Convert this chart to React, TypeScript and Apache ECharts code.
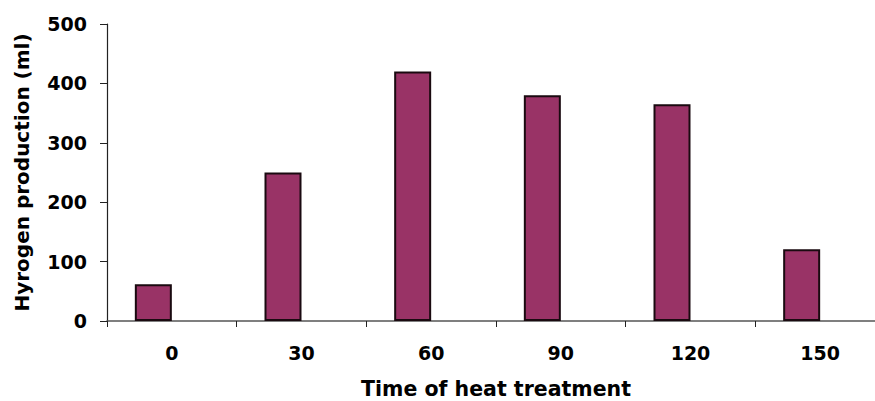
import React, { useEffect, useRef } from "react";
import * as echarts from "echarts";

const categories = ["0", "30", "60", "90", "120", "150"];
const hydrogen = [62, 250, 420, 380, 365, 121];
const spacer = [null, null, null, null, null, null];
const yTicks = { min: 0, max: 500, interval: 100 };

const FONT = "DejaVu Sans";

export default function App() {
  const ref = useRef<HTMLDivElement>(null);
  useEffect(() => {
    if (!ref.current) return;
    const chart = echarts.init(ref.current, null, { renderer: "svg" });
    chart.setOption({
      animation: false,
      backgroundColor: "#ffffff",
      grid: {
        left: 107,
        top: 24,
        bottom: 80,
        right: -10,
        containLabel: false,
        outerBoundsMode: "none",
      },
      xAxis: {
        type: "category",
        data: categories,
        name: "Time of heat treatment",
        nameLocation: "middle",
        nameGap: 58,
        nameTextStyle: {
          fontFamily: FONT,
          fontWeight: "bold",
          fontSize: 20.5,
          lineHeight: 20,
          color: "#000",
        },
        axisLine: { lineStyle: { color: "#555", width: 1.5 } },
        axisTick: { show: true, length: 6, lineStyle: { color: "#222" }, alignWithLabel: false },
        axisLabel: { fontFamily: FONT, fontWeight: "bold", fontSize: 19, color: "#000", margin: 22 },
      },
      yAxis: {
        type: "value",
        min: yTicks.min,
        max: yTicks.max,
        interval: yTicks.interval,
        name: "Hyrogen production (ml)",
        nameLocation: "middle",
        nameGap: 75,
        nameTextStyle: { fontFamily: FONT, fontWeight: "bold", fontSize: 20, color: "#000" },
        splitLine: { show: false },
        axisLine: { show: true, lineStyle: { color: "#222", width: 1.2 } },
        axisTick: { show: true, length: 7, lineStyle: { color: "#222" } },
        axisLabel: { fontFamily: FONT, fontWeight: "bold", fontSize: 19, color: "#000", margin: 20 },
      },
      series: [
        {
          type: "bar",
          data: hydrogen,
          barWidth: 37,
          barGap: "0%",
          itemStyle: { color: "#993366", borderColor: "#1a0a10", borderWidth: 2 },
        },
        {
          type: "bar",
          data: spacer,
          barWidth: 37,
          barGap: "0%",
        },
      ],
    });
    return () => chart.dispose();
  }, []);
  return <div ref={ref} style={{ width: 875, height: 401, position: "absolute", left: 0, top: 0 }} />;
}
